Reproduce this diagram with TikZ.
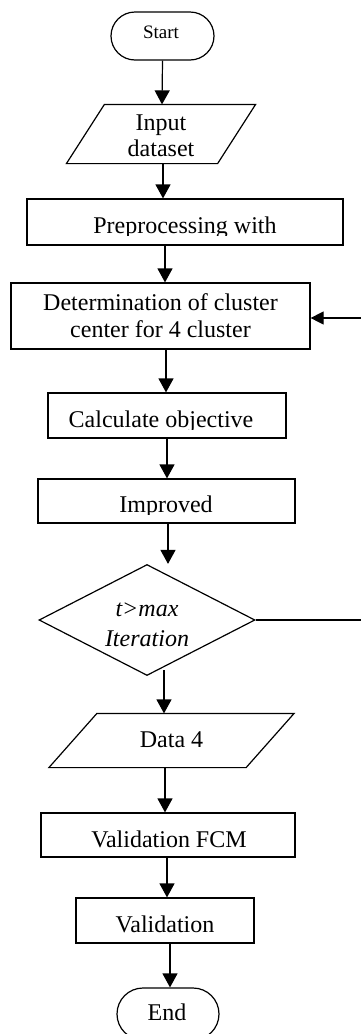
\documentclass[tikz,border=0pt]{standalone}
\usepackage{fontspec}
\setmainfont{Liberation Serif}
\usetikzlibrary{shapes.geometric,shapes.misc,arrows.meta,calc}
\begin{document}
\begin{tikzpicture}[x=1pt,y=-1pt,line width=1.2pt,
  box/.style={draw,rectangle,inner sep=0pt},
  ghost/.style={rectangle,inner sep=0pt},
  term/.style={draw,rounded rectangle,inner sep=0pt},
  big/.style={font=\fontsize{24}{27}\selectfont,inner sep=0pt,align=center},
  lbl/.style={font=\fontsize{24}{27}\selectfont,inner sep=0pt,anchor=base},
  arr/.style={-{Triangle[width=15pt,length=14pt]}},
  arrs/.style={-{Triangle[width=13pt,length=13pt]}}]
\useasboundingbox (0,0) rectangle (361,1034);
\clip (0,0) rectangle (361,1034);

% shapes
\node[term,minimum width=103pt,minimum height=48pt] (start) at (162.5,36) {};
\node[lbl,font=\fontsize{19}{22}\selectfont] (starttxt) at (161,38) {Start};

\node[ghost,minimum width=150pt,minimum height=58pt] (inp) at (161,134) {};
\draw ($(inp.north west)+(19,0)$) -- ($(inp.north east)+(19,0)$)
   -- ($(inp.south east)+(-19,0)$) -- ($(inp.south west)+(-19,0)$) -- cycle;
\node[big,font=\fontsize{24}{26}\selectfont] (inptxt) at (161,136) {Input\\dataset};

\node[box,minimum width=316pt,minimum height=46pt] (pre) at (185,222) {};
\begin{scope}
  \clip (pre.north west) rectangle (pre.east |- 0,235);
  \node[lbl] (pretxt) at (185,233) {Preprocessing with};
\end{scope}

\node[box,big,minimum width=299pt,minimum height=66pt] (det) at (160.5,316)
  {Determination of cluster\\center for 4 cluster};

\node[box,minimum width=238pt,minimum height=45pt] (calc) at (167,415.5) {};
\begin{scope}
  \clip (calc.north west) rectangle (calc.east |- 0,429);
  \node[lbl] (calctxt) at (161,427) {Calculate objective};
\end{scope}

\node[box,minimum width=257pt,minimum height=44pt] (imp) at (166.5,501) {};
\begin{scope}
  \clip (imp.north west) rectangle (imp.east |- 0,514);
  \node[lbl] (imptxt) at (166,512) {Improved};
\end{scope}

\node[draw,diamond,aspect=1.95,minimum width=216pt,minimum height=111pt,inner sep=0pt] (dia) at (147,620) {};
\node[big,font=\fontsize{24}{30}\selectfont\itshape] (diatxt) at (147,625) {t>max\\Iteration};

\node[ghost,minimum width=196pt,minimum height=53pt] (data) at (171.5,740.5) {};
\draw ($(data.north west)+(24,0)$) -- ($(data.north east)+(24,0)$)
   -- ($(data.south east)+(-24,0)$) -- ($(data.south west)+(-24,0)$) -- cycle;
\node[lbl] (datatxt) at (171.5,747.5) {Data 4};

\node[box,minimum width=254pt,minimum height=44pt] (fcm) at (168,835) {};
\node[lbl] (fcmtxt) at (169,847) {Validation FCM};

\node[box,minimum width=178pt,minimum height=45pt] (val) at (165,920.5) {};
\node[lbl] (valtxt) at (165,932) {Validation};

\node[term,minimum width=102pt,minimum height=52pt] (end) at (168,1014) {};
\node[lbl] (endtxt) at (167,1020) {End};

% connector end points
\coordinate (r1) at (362,620);
\coordinate (r2) at (362,318);
\coordinate (dout) at ($(dia.south)+(17,-6)$);

% connectors
\draw[arr] (start.south) -- ([xshift=1pt]inp.north);
\draw[arr] ([xshift=2pt]inp.south) -- ([xshift=-22pt]pre.north);
\draw[arr] ([xshift=-20pt]pre.south) -- ([xshift=4.5pt]det.north);
\draw[arr] ([xshift=5.5pt]det.south) -- ([xshift=-1pt]calc.north);
\draw[arr] (calc.south) -- ([xshift=0.5pt]imp.north);
\draw[arr] ([xshift=1.5pt]imp.south) -- ([xshift=21pt]dia.north);
\draw[arr] (dout) -- (dout |- data.north);
\draw[arr] ([xshift=-6.5pt]data.south) -- ([xshift=-3pt]fcm.north);
\draw[arr] ([xshift=-1pt]fcm.south) -- ([xshift=2pt]val.north);
\draw[arr] ([xshift=5pt]val.south) -- ([xshift=2pt]end.north);
\draw (dia.east) -- (r1);
\draw[arrs] (r2) -- (det.east |- r2);
\end{tikzpicture}
\end{document}
